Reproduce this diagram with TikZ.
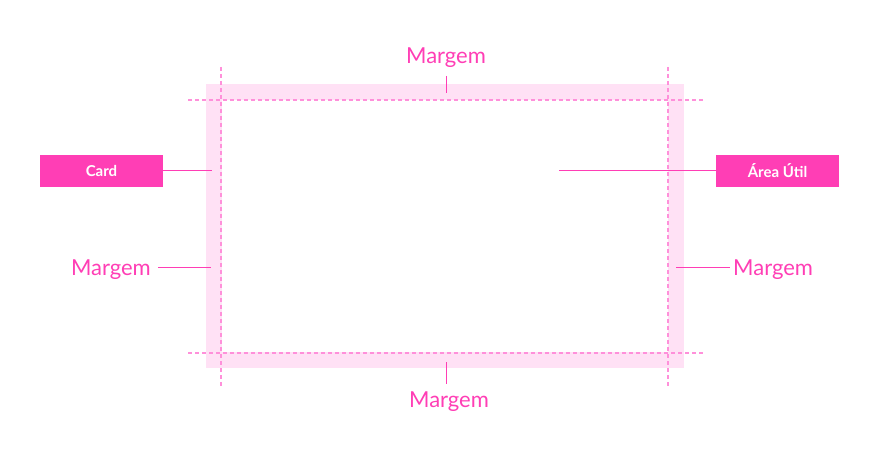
\documentclass[tikz,border=0pt]{standalone}
\usepackage{fontspec}
\setmainfont{Lato}
\definecolor{hot}{HTML}{FF3EB5}
\definecolor{band}{HTML}{FFE1F5}
\definecolor{dash}{HTML}{FF90DA}
\tikzset{
  guide/.style={draw=dash, line width=1.5pt, dash pattern=on 4pt off 3pt},
  leader/.style={draw=hot, line width=1pt},
  lbl/.style={text=hot, font=\fontsize{22}{26}\selectfont, inner sep=0pt},
  tag/.style={fill=hot, text=white, font=\bfseries\fontsize{15}{18}\selectfont, minimum width=123pt, minimum height=32pt, inner sep=0pt},
}
\begin{document}
\begin{tikzpicture}[x=1pt,y=-1pt]
\useasboundingbox (0,0) rectangle (879,452);
% card with margin band
\fill[band] (206,84) rectangle (684,368);
\fill[white] (222,100) rectangle (668,352);
\node[coordinate] (cardL) at (212,170) {};
% guides
\coordinate (hl1) at (188,100); \coordinate (hr1) at (703,100);
\coordinate (hl2) at (188,353); \coordinate (hr2) at (703,353);
\coordinate (vt1) at (221,67); \coordinate (vb1) at (221,387);
\coordinate (vt2) at (668,67); \coordinate (vb2) at (668,387);
\draw[guide] (hl1) -- (hr1);
\draw[guide] (hl2) -- (hr2);
\draw[guide] (vt1) -- (vb1);
\draw[guide] (vt2) -- (vb2);
% labels
\node[lbl] (mt) at (446,58) {Margem};
\node[lbl] (mb) at (449,402) {Margem};
\node[lbl, anchor=east] (ml) at (151,270) {Margem};
\node[lbl, anchor=west] (mr) at (733,270) {Margem};
\node[tag] (card) at (101.5,171) {Card};
\node[tag] (util) at (777.5,171) {Área Útil};
% leader endpoints
\coordinate (tT) at (446,76); \coordinate (tB) at (446,93);
\coordinate (bT) at (446,362); \coordinate (bB) at (446,384);
\coordinate (lE) at (211,267); \coordinate (rE) at (676,267);
\coordinate (uE) at (559,170);
\draw[leader] (tT) -- (tB);
\draw[leader] (bT) -- (bB);
\draw[leader] (158,267) -- (lE);
\draw[leader] (730,267) -- (rE);
\draw[leader] (card.east |- cardL) -- (cardL);
\draw[leader] (uE) -- (util.west |- uE);
\end{tikzpicture}
\end{document}
